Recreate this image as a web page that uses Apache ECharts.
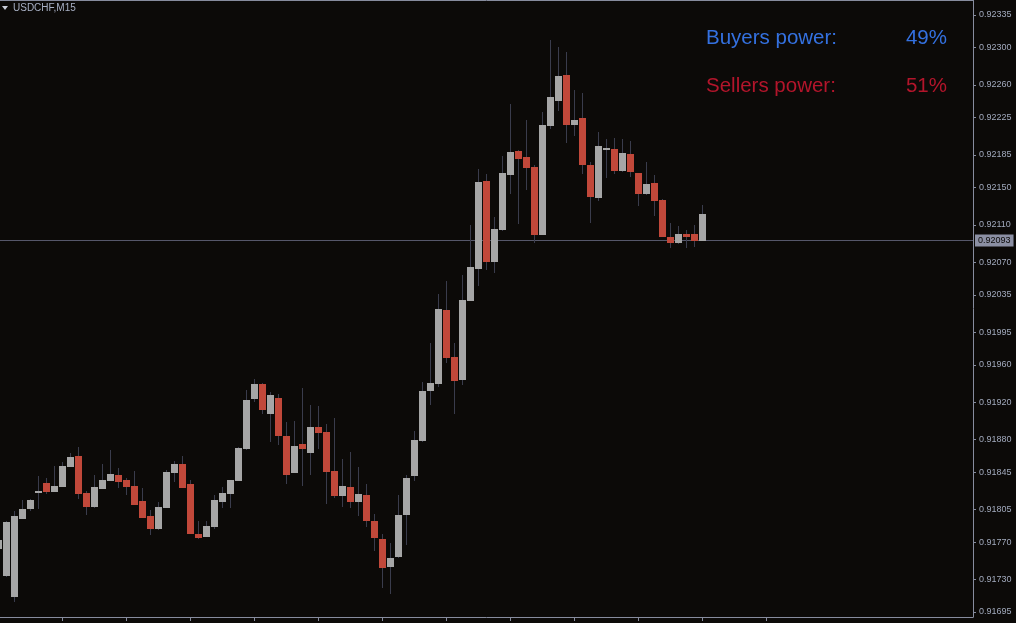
<!DOCTYPE html>
<html>
<head>
<meta charset="utf-8">
<script src="https://cdn.jsdelivr.net/npm/echarts@6/dist/echarts.min.js"></script>
<style>
html,body{margin:0;padding:0;background:#0c0a08;}
#chart{width:1016px;height:623px;}
</style>
</head>
<body>
<div id="chart"></div>
<script>
// ---- data (USDCHF, M15) ----
const symbolTitle = 'USDCHF,M15';
const openPrices = [0.91763,0.91734,0.91711,0.91795,0.91805,0.91823,0.91833,0.91824,0.91829,0.91850,
0.91862,0.91823,0.91808,0.91827,0.91835,0.91842,0.91836,0.91830,0.91814,0.91798,
0.91784,0.91806,0.91844,0.91854,0.91832,0.91779,0.91775,0.91786,0.91813,0.91821,
0.91835,0.91870,0.91923,0.91939,0.91907,0.91924,0.91884,0.91844,0.91875,0.91865,
0.91893,0.91888,0.91846,0.91819,0.91829,0.91813,0.91820,0.91793,0.91773,0.91743,
0.91754,0.91799,0.91841,0.91878,0.91932,0.91939,0.92019,0.91968,0.91944,0.92028,
0.92063,0.92157,0.92070,0.92104,0.92164,0.92189,0.92183,0.92172,0.92099,0.92216,
0.92243,0.92271,0.92217,0.92225,0.92174,0.92139,0.92190,0.92191,0.92168,0.92186,
0.92166,0.92143,0.92155,0.92137,0.92097,0.92091,0.92100,0.92100,0.92093];
const highPrices = [0.91778,0.91793,0.91803,0.91815,0.91816,0.91841,0.91839,0.91851,0.91856,0.91865,
0.91872,0.91825,0.91842,0.91854,0.91869,0.91849,0.91839,0.91846,0.91828,0.91804,
0.91813,0.91847,0.91857,0.91862,0.91836,0.91793,0.91793,0.91820,0.91829,0.91836,
0.91872,0.91933,0.91945,0.91941,0.91931,0.91929,0.91899,0.91900,0.91935,0.91917,
0.91916,0.91897,0.91903,0.91859,0.91866,0.91850,0.91832,0.91800,0.91779,0.91769,
0.91820,0.91842,0.91889,0.91942,0.91983,0.92036,0.92050,0.91983,0.92056,0.92110,
0.92170,0.92165,0.92118,0.92184,0.92240,0.92190,0.92222,0.92174,0.92231,0.92308,
0.92301,0.92295,0.92255,0.92251,0.92177,0.92210,0.92202,0.92203,0.92202,0.92200,
0.92166,0.92177,0.92164,0.92138,0.92112,0.92109,0.92104,0.92110,0.92131];
const lowPrices = [0.91759,0.91732,0.91706,0.91795,0.91803,0.91805,0.91821,0.91824,0.91829,0.91850,
0.91816,0.91799,0.91806,0.91827,0.91835,0.91828,0.91820,0.91810,0.91796,0.91778,
0.91783,0.91806,0.91834,0.91828,0.91779,0.91773,0.91775,0.91784,0.91806,0.91806,
0.91835,0.91869,0.91920,0.91907,0.91877,0.91874,0.91832,0.91844,0.91830,0.91842,
0.91870,0.91811,0.91817,0.91808,0.91806,0.91798,0.91786,0.91760,0.91721,0.91714,
0.91753,0.91767,0.91835,0.91877,0.91917,0.91936,0.91962,0.91907,0.91938,0.92028,
0.92044,0.92062,0.92058,0.92103,0.92143,0.92111,0.92147,0.92091,0.92099,0.92213,
0.92232,0.92198,0.92205,0.92165,0.92112,0.92136,0.92160,0.92165,0.92167,0.92161,
0.92130,0.92142,0.92120,0.92097,0.92085,0.92090,0.92085,0.92086,0.92093];
const closePrices = [0.91772,0.91791,0.91798,0.91805,0.91815,0.91825,0.91824,0.91830,0.91851,0.91861,
0.91821,0.91808,0.91829,0.91836,0.91843,0.91834,0.91829,0.91810,0.91796,0.91784,
0.91808,0.91845,0.91854,0.91828,0.91779,0.91774,0.91787,0.91815,0.91823,0.91836,
0.91871,0.91922,0.91939,0.91912,0.91928,0.91884,0.91842,0.91873,0.91870,0.91893,
0.91887,0.91845,0.91819,0.91830,0.91813,0.91821,0.91793,0.91774,0.91742,0.91753,
0.91799,0.91839,0.91879,0.91932,0.91941,0.92020,0.91967,0.91943,0.92030,0.92065,
0.92156,0.92070,0.92106,0.92166,0.92188,0.92181,0.92171,0.92099,0.92217,0.92247,
0.92270,0.92217,0.92222,0.92174,0.92140,0.92195,0.92192,0.92168,0.92187,0.92167,
0.92143,0.92154,0.92136,0.92097,0.92091,0.92100,0.92097,0.92093,0.92122];
const currentBid = 0.92093;
const yTickValues = [0.91695,0.91730,0.91770,0.91805,0.91845,0.91880,0.91920,0.91960,0.91995,
0.92035,0.92070,0.92110,0.92150,0.92185,0.92225,0.92260,0.92300,0.92335];
const xTickValues = [7,15,23,31,39,47,55,63,71,79,87,95];
const buyersPower = 49;
const sellersPower = 51;

// ---- build ----
const barIndex = openPrices.map((_, i) => i - 1);
const candleData = barIndex.map((x, i) => [x, openPrices[i], closePrices[i], lowPrices[i], highPrices[i]]);

const BULL = '#a6a6a6', BEAR = '#c1483a', WICK = '#3a3c4c', AXIS = '#878c9e', LABEL = '#a2aabd';
const FONT = 'Liberation Sans, Arial, sans-serif';

const chart = echarts.init(document.getElementById('chart'), null, {renderer: 'canvas'});
const option = {
  backgroundColor: '#0c0a08',
  animation: false,
  grid: {left: 0, right: 43, top: 0, bottom: 6, containLabel: false},
  xAxis: [{
    type: 'value', min: -0.8125, max: 120.8125, position: 'bottom',
    axisLine: {show: true, onZero: false, lineStyle: {color: AXIS, width: 1}},
    axisTick: {show: true, length: 4, customValues: xTickValues, lineStyle: {color: AXIS}},
    axisLabel: {show: false}, splitLine: {show: false}
  }, {
    type: 'value', min: -0.8125, max: 120.8125, position: 'top',
    axisLine: {show: true, onZero: false, lineStyle: {color: AXIS, width: 1}},
    axisTick: {show: false}, axisLabel: {show: false}, splitLine: {show: false}
  }],
  yAxis: {
    type: 'value', position: 'right', min: 0.9168964, max: 0.9235108,
    axisLine: {show: true, onZero: false, lineStyle: {color: AXIS, width: 1}},
    axisTick: {show: true, length: 3, customValues: yTickValues, lineStyle: {color: AXIS}},
    axisLabel: {
      customValues: yTickValues, color: LABEL, fontSize: 9, margin: 6,
      fontFamily: FONT,
      formatter: v => v.toFixed(5)
    },
    splitLine: {show: false}
  },
  series: [{
    // bid line (drawn first, under the candles)
    type: 'custom',
    clip: false,
    silent: true,
    xAxisIndex: 0, yAxisIndex: 0,
    encode: {x: 0, y: 1},
    data: [[barIndex[barIndex.length - 1], currentBid]],
    renderItem: function (params, api) {
      const p = api.coord([api.value(0), api.value(1)]);
      const cs = params.coordSys;
      const y = Math.floor(p[1]) + 0.5;
      return {
        type: 'group',
        children: [{
          type: 'line',
          shape: {x1: cs.x, y1: y, x2: cs.x + cs.width, y2: y},
          style: {stroke: '#56576a', lineWidth: 1}
        }, {
          type: 'text',
          x: cs.x + cs.width + 2, y: y,
          style: {
            text: api.value(1).toFixed(5), fill: '#0c0a08', fontSize: 9, fontFamily: FONT,
            backgroundColor: '#8b8fa3', padding: [2, 3, 1, 3],
            align: 'left', verticalAlign: 'middle'
          }
        }]
      };
    }
  }, {
    type: 'custom',
    clip: true,
    xAxisIndex: 0, yAxisIndex: 0,
    encode: {x: 0, y: [1, 2, 3, 4]},
    data: candleData,
    renderItem: function (params, api) {
      const x = api.value(0), o = api.value(1), c = api.value(2), l = api.value(3), h = api.value(4);
      const pO = api.coord([x, o]), pC = api.coord([x, c]);
      const pL = api.coord([x, l]), pH = api.coord([x, h]);
      const w = Math.round(api.size([1, 0])[0] * 0.875);
      const cx = Math.floor(pO[0]) + 0.5;
      const left = cx - 0.5 - Math.floor(w / 2);
      const top = Math.round(Math.min(pO[1], pC[1]));
      const bot = Math.round(Math.max(pO[1], pC[1]));
      const up = c >= o;
      return {
        type: 'group',
        children: [{
          type: 'line',
          shape: {x1: cx, y1: Math.round(pH[1]), x2: cx, y2: Math.round(pL[1])},
          style: {stroke: WICK, lineWidth: 1}
        }, {
          type: 'rect',
          shape: {x: left, y: top, width: w, height: Math.max(2, bot - top)},
          style: {fill: up ? BULL : BEAR}
        }]
      };
    }
  }],
  graphic: [
    {type: 'polygon', shape: {points: [[2, 6], [8, 6], [5, 10]]}, style: {fill: '#c8ccd8'}},
    {type: 'text', x: 13, y: 8, style: {text: symbolTitle, fill: '#a8b0c4', fontSize: 10,
      fontFamily: FONT, verticalAlign: 'middle', align: 'left'}},
    {type: 'text', x: 706, y: 38, style: {text: 'Buyers power:', fill: '#3471e0', fontSize: 20.5,
      fontFamily: FONT, verticalAlign: 'middle', align: 'left'}},
    {type: 'text', x: 947, y: 38, style: {text: buyersPower + '%', fill: '#3471e0', fontSize: 20.5,
      fontFamily: FONT, verticalAlign: 'middle', align: 'right'}},
    {type: 'text', x: 706, y: 86, style: {text: 'Sellers power:', fill: '#b3152b', fontSize: 20.5,
      fontFamily: FONT, verticalAlign: 'middle', align: 'left'}},
    {type: 'text', x: 947, y: 86, style: {text: sellersPower + '%', fill: '#b3152b', fontSize: 20.5,
      fontFamily: FONT, verticalAlign: 'middle', align: 'right'}}
  ]
};
chart.setOption(option);
</script>
</body>
</html>
